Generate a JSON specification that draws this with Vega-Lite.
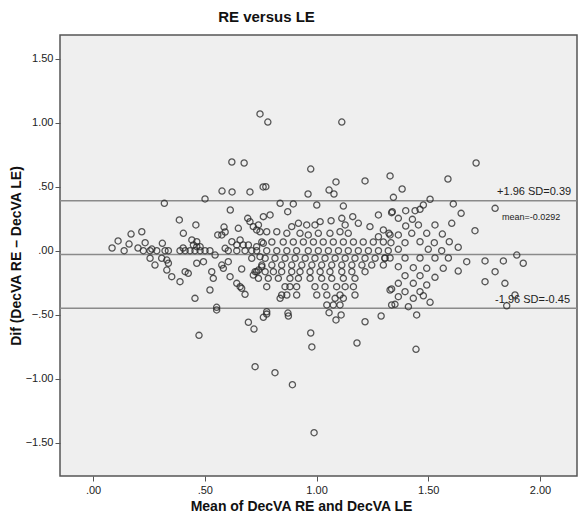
{
  "$schema": "https://vega.github.io/schema/vega-lite/v6.json",
  "width": 517,
  "height": 441,
  "autosize": "none",
  "padding": {"left": 60, "top": 35, "right": 1, "bottom": 37},
  "background": "white",
  "config": {
    "view": {"fill": "#efefef", "stroke": "#555555", "strokeWidth": 1.5},
    "font": "Liberation Sans"
  },
  "title": {"text": "RE versus LE", "fontSize": 15, "fontWeight": "bold", "anchor": "middle", "dx": -52, "offset": 10, "color": "#111111"},
  "datasets": {
    "pts": [
      {"m":0.747,"d":1.068},{"m":0.782,"d":1.005},{"m":1.113,"d":1.005},{"m":0.621,"d":0.693},{"m":0.676,"d":0.685},{"m":0.577,"d":0.466},{"m":0.622,"d":0.459},{"m":0.702,"d":0.459},{"m":0.761,"d":0.498},{"m":0.974,"d":0.638},{"m":0.773,"d":0.5},{"m":1.087,"d":0.537},{"m":1.217,"d":0.545},{"m":1.329,"d":0.584},{"m":1.056,"d":0.474},{"m":0.962,"d":0.443},{"m":1.078,"d":0.443},{"m":1.383,"d":0.482},{"m":1.588,"d":0.56},{"m":1.714,"d":0.685},
      {"m":0.319,"d":0.37},{"m":0.501,"d":0.404},{"m":0.614,"d":0.318},{"m":0.386,"d":0.24},{"m":0.46,"d":0.201},{"m":0.218,"d":0.148},{"m":0.404,"d":0.136},{"m":0.586,"d":0.185},{"m":0.591,"d":0.146},{"m":0.576,"d":0.123},{"m":0.558,"d":0.123},{"m":0.692,"d":0.253},{"m":0.702,"d":0.227},{"m":0.717,"d":0.188},{"m":0.732,"d":0.162},{"m":0.747,"d":0.148},{"m":0.65,"d":0.175},{"m":0.762,"d":0.266},{"m":0.233,"d":0.0625},{"m":0.31,"d":0.058},{"m":0.442,"d":0.084},{"m":0.464,"d":0.07},{"m":0.449,"d":0.045},{"m":0.464,"d":0.031},{"m":0.479,"d":0.031},{"m":0.403,"d":0.021},{"m":0.621,"d":0.07},{"m":0.658,"d":0.084},{"m":0.643,"d":0.045},{"m":0.672,"d":0.045},{"m":0.695,"d":0.045},{"m":0.591,"d":0.019},{"m":0.201,"d":0.021},{"m":0.263,"d":0.013},{"m":0.732,"d":0.031},{"m":0.762,"d":0.058},
      {"m":0.225,"d":0},{"m":0.255,"d":0},{"m":0.285,"d":0},{"m":0.322,"d":0},{"m":0.337,"d":0},{"m":0.389,"d":0},{"m":0.412,"d":0},{"m":0.434,"d":0},{"m":0.456,"d":0},{"m":0.479,"d":0},{"m":0.501,"d":0},{"m":0.523,"d":0},{"m":0.605,"d":0},{"m":0.643,"d":0},{"m":0.68,"d":0},{"m":0.71,"d":0},
      {"m":0.255,"d":-0.059},{"m":0.277,"d":-0.112},{"m":0.307,"d":-0.059},{"m":0.33,"d":-0.073},{"m":0.337,"d":-0.098},{"m":0.33,"d":-0.151},{"m":0.352,"d":-0.203},{"m":0.389,"d":-0.242},{"m":0.412,"d":-0.164},{"m":0.426,"d":-0.177},{"m":0.464,"d":-0.098},{"m":0.494,"d":-0.086},{"m":0.546,"d":-0.034},{"m":0.531,"d":-0.164},{"m":0.538,"d":-0.216},{"m":0.576,"d":-0.112},{"m":0.583,"d":-0.138},{"m":0.605,"d":-0.086},{"m":0.613,"d":-0.203},{"m":0.665,"d":-0.143},{"m":0.643,"d":-0.255},{"m":0.658,"d":-0.281},{"m":0.665,"d":-0.294},{"m":0.68,"d":-0.341},{"m":0.523,"d":-0.307},{"m":0.456,"d":-0.372},{"m":0.553,"d":-0.442},{"m":0.717,"d":-0.19},{"m":0.732,"d":-0.164},{"m":0.74,"d":-0.151},{"m":0.755,"d":-0.125},{"m":0.71,"d":-0.059},{"m":0.747,"d":-0.047},
      {"m":0.837,"d":0.37},{"m":0.896,"d":0.365},{"m":1.001,"d":0.357},{"m":1.12,"d":0.349},{"m":0.871,"d":0.305},{"m":0.792,"d":0.279},{"m":1.277,"d":0.279},{"m":1.336,"d":0.297},{"m":1.162,"d":0.266},{"m":1.113,"d":0.253},{"m":1.065,"d":0.234},{"m":1.128,"d":0.201},{"m":1.016,"d":0.227},{"m":0.919,"d":0.214},{"m":0.956,"d":0.201},{"m":0.889,"d":0.188},{"m":0.993,"d":0.201},{"m":1.187,"d":0.214},{"m":1.239,"d":0.188},{"m":1.299,"d":0.162},{"m":0.74,"d":0.201},{"m":0.777,"d":0.148},{"m":0.822,"d":0.148},{"m":0.867,"d":0.136},{"m":0.926,"d":0.136},{"m":0.963,"d":0.123},{"m":1.008,"d":0.136},{"m":1.06,"d":0.136},{"m":1.105,"d":0.148},{"m":1.142,"d":0.136},{"m":1.277,"d":0.109},{"m":1.329,"d":0.123},
      {"m":0.755,"d":0.068},{"m":0.8,"d":0.068},{"m":0.851,"d":0.068},{"m":0.896,"d":0.068},{"m":0.941,"d":0.068},{"m":0.986,"d":0.068},{"m":1.03,"d":0.068},{"m":1.075,"d":0.068},{"m":1.12,"d":0.068},{"m":1.165,"d":0.068},{"m":1.209,"d":0.068},{"m":1.254,"d":0.068},{"m":1.299,"d":0.068},
      {"m":0.732,"d":0},{"m":0.777,"d":0},{"m":0.822,"d":0},{"m":0.867,"d":0},{"m":0.911,"d":0},{"m":0.963,"d":0},{"m":1.008,"d":0},{"m":1.053,"d":0},{"m":1.098,"d":0},{"m":1.142,"d":0},{"m":1.187,"d":0},{"m":1.232,"d":0},{"m":1.277,"d":0},{"m":1.321,"d":0},
      {"m":0.77,"d":-0.059},{"m":0.814,"d":-0.059},{"m":0.859,"d":-0.059},{"m":0.904,"d":-0.059},{"m":0.949,"d":-0.059},{"m":0.993,"d":-0.059},{"m":1.038,"d":-0.059},{"m":1.083,"d":-0.059},{"m":1.128,"d":-0.059},{"m":1.172,"d":-0.059},{"m":1.217,"d":-0.059},{"m":1.262,"d":-0.059},{"m":1.306,"d":-0.059},
      {"m":0.755,"d":-0.112},{"m":0.8,"d":-0.112},{"m":0.844,"d":-0.112},{"m":0.889,"d":-0.112},{"m":0.934,"d":-0.112},{"m":0.979,"d":-0.112},{"m":1.023,"d":-0.112},{"m":1.068,"d":-0.112},{"m":1.113,"d":-0.112},{"m":1.158,"d":-0.112},{"m":1.203,"d":-0.112},{"m":1.247,"d":-0.112},{"m":1.299,"d":-0.112},
      {"m":0.725,"d":-0.164},{"m":0.77,"d":-0.164},{"m":0.807,"d":-0.164},{"m":0.844,"d":-0.164},{"m":0.889,"d":-0.164},{"m":0.926,"d":-0.164},{"m":0.971,"d":-0.164},{"m":1.016,"d":-0.164},{"m":1.06,"d":-0.164},{"m":1.113,"d":-0.164},{"m":1.158,"d":-0.164},{"m":1.217,"d":-0.164},
      {"m":0.74,"d":-0.216},{"m":0.784,"d":-0.216},{"m":0.829,"d":-0.216},{"m":0.881,"d":-0.216},{"m":0.919,"d":-0.216},{"m":0.971,"d":-0.216},{"m":1.023,"d":-0.216},{"m":1.068,"d":-0.216},{"m":1.12,"d":-0.216},{"m":1.172,"d":-0.216},
      {"m":0.777,"d":-0.281},{"m":0.859,"d":-0.281},{"m":0.881,"d":-0.281},{"m":0.911,"d":-0.281},{"m":0.993,"d":-0.281},{"m":1.038,"d":-0.281},{"m":1.09,"d":-0.281},{"m":1.128,"d":-0.281},{"m":1.165,"d":-0.281},
      {"m":0.844,"d":-0.346},{"m":0.867,"d":-0.346},{"m":0.911,"d":-0.346},{"m":1.001,"d":-0.346},{"m":1.046,"d":-0.346},{"m":1.105,"d":-0.346},{"m":1.172,"d":-0.346},
      {"m":0.837,"d":-0.372},{"m":1.083,"d":-0.372},{"m":1.12,"d":-0.372},{"m":1.046,"d":-0.424},{"m":1.075,"d":-0.424},{"m":1.105,"d":-0.424},{"m":0.777,"d":-0.477},{"m":0.872,"d":-0.487},{"m":1.329,"d":-0.307},{"m":1.336,"d":-0.424},
      {"m":1.344,"d":0.417},{"m":1.508,"d":0.402},{"m":1.612,"d":0.365},{"m":1.799,"d":0.331},{"m":1.478,"d":0.357},{"m":1.463,"d":0.323},{"m":1.339,"d":0.305},{"m":1.399,"d":0.3125},{"m":1.441,"d":0.3125},{"m":1.647,"d":0.292},{"m":1.366,"d":0.253},{"m":1.429,"d":0.245},{"m":1.605,"d":0.214},{"m":1.53,"d":0.201},{"m":1.399,"d":0.193},{"m":1.456,"d":0.201},{"m":1.709,"d":0.156},{"m":1.324,"d":0.136},{"m":1.366,"d":0.123},{"m":1.426,"d":0.136},{"m":1.493,"d":0.136},{"m":1.563,"d":0.13},{"m":1.333,"d":0.0625},{"m":1.396,"d":0.0625},{"m":1.463,"d":0.07},{"m":1.527,"d":0.0625},{"m":1.594,"d":0.07},{"m":1.634,"d":0.027},{"m":1.5,"d":0.011},{"m":1.366,"d":0.011},
      {"m":1.56,"d":0},{"m":1.306,"d":-0.057},{"m":1.329,"d":-0.057},{"m":1.396,"d":-0.057},{"m":1.463,"d":-0.057},{"m":1.53,"d":-0.057},{"m":1.59,"d":-0.057},{"m":1.672,"d":-0.086},{"m":1.754,"d":-0.08},{"m":1.836,"d":-0.08},{"m":1.896,"d":-0.034},{"m":1.925,"d":-0.098},{"m":1.366,"d":-0.125},{"m":1.433,"d":-0.133},{"m":1.493,"d":-0.1375},{"m":1.567,"d":-0.1375},{"m":1.634,"d":-0.159},{"m":1.799,"d":-0.164},{"m":1.396,"d":-0.195},{"m":1.463,"d":-0.195},{"m":1.53,"d":-0.208},{"m":1.754,"d":-0.242},{"m":1.843,"d":-0.255},{"m":1.366,"d":-0.255},{"m":1.433,"d":-0.255},{"m":1.493,"d":-0.268},{"m":1.336,"d":-0.299},{"m":1.396,"d":-0.32},{"m":1.463,"d":-0.32},{"m":1.478,"d":-0.352},{"m":1.366,"d":-0.359},{"m":1.433,"d":-0.372},{"m":1.508,"d":-0.403},{"m":1.351,"d":-0.419},{"m":1.411,"d":-0.4375},{"m":1.888,"d":-0.346},{"m":1.851,"d":-0.43},{"m":1.448,"d":-0.502},{"m":1.445,"d":-0.77},
      {"m":0.474,"d":-0.661},{"m":0.695,"d":-0.559},{"m":0.72,"d":-0.612},{"m":0.725,"d":-0.906},{"m":0.762,"d":-0.52},{"m":0.553,"d":-0.463},{"m":0.777,"d":-0.495},{"m":0.874,"d":-0.51},{"m":1.056,"d":-0.484},{"m":1.11,"d":-0.502},{"m":1.087,"d":-0.541},{"m":1.217,"d":-0.555},{"m":1.289,"d":-0.51},{"m":0.974,"d":-0.643},{"m":0.979,"d":-0.752},{"m":1.181,"d":-0.721},{"m":0.814,"d":-0.953},{"m":0.892,"d":-1.047},{"m":0.989,"d":-1.422},
      {"m":0.085,"d":0.021},{"m":0.112,"d":0.076},{"m":0.139,"d":0},{"m":0.161,"d":0.052},{"m":0.17,"d":0.13}
    ],
    "lines": [{"y": 0.39}, {"y": -0.0292}, {"y": -0.45}],
    "sdlabels": [{"x": 1.808, "y": 0.437, "t": "+1.96 SD=0.39"}, {"x": 1.799, "y": -0.41, "t": "-1.96 SD=-0.45"}],
    "meanlabel": [{"x": 1.83, "y": 0.24, "t": "mean=-0.0292"}]
  },
  "layer": [
    {
      "data": {"name": "lines"},
      "mark": {"type": "rule", "color": "#8a8a8a", "strokeWidth": 1.6},
      "encoding": {
        "y": {
          "field": "y", "type": "quantitative",
          "scale": {"domain": [-1.76, 1.685], "nice": false, "zero": false},
          "axis": {
            "values": [-1.5, -1, -0.5, 0, 0.5, 1, 1.5],
            "labelExpr": "replace(format(datum.value, '.2f'), '0.', '.')",
            "labelFontSize": 11, "labelColor": "#222222", "labelPadding": 2,
            "tickColor": "#555555", "tickSize": 5, "domain": false, "grid": false,
            "title": "Dif (DecVA RE – DecVA LE)", "titleFontSize": 14, "titleFontWeight": "bold", "titleColor": "#111111", "titlePadding": 2
          }
        }
      }
    },
    {
      "data": {"name": "pts"},
      "mark": {"type": "point", "shape": "circle", "filled": false, "size": 38, "stroke": "#2a2a2a", "strokeWidth": 1.3, "opacity": 0.78},
      "encoding": {
        "x": {
          "field": "m", "type": "quantitative",
          "scale": {"domain": [-0.148, 2.1655], "nice": false, "zero": false},
          "axis": {
            "values": [0, 0.5, 1, 1.5, 2],
            "labelExpr": "replace(format(datum.value, '.2f'), '0.', '.')",
            "labelFontSize": 11, "labelColor": "#222222", "labelPadding": 3,
            "tickColor": "#555555", "tickSize": 5, "domain": false, "grid": false,
            "title": "Mean of DecVA RE and DecVA LE", "titleFontSize": 14, "titleFontWeight": "bold", "titleColor": "#111111",
            "titleX": 241, "titleY": 34, "titleBaseline": "alphabetic"
          }
        },
        "y": {"field": "d", "type": "quantitative"}
      }
    },
    {
      "data": {"name": "sdlabels"},
      "mark": {"type": "text", "align": "left", "baseline": "alphabetic", "fontSize": 11, "color": "#222222"},
      "encoding": {
        "x": {"field": "x", "type": "quantitative"},
        "y": {"field": "y", "type": "quantitative"},
        "text": {"field": "t"}
      }
    },
    {
      "data": {"name": "meanlabel"},
      "mark": {"type": "text", "align": "left", "baseline": "alphabetic", "fontSize": 9, "color": "#222222"},
      "encoding": {
        "x": {"field": "x", "type": "quantitative"},
        "y": {"field": "y", "type": "quantitative"},
        "text": {"field": "t"}
      }
    }
  ]
}
